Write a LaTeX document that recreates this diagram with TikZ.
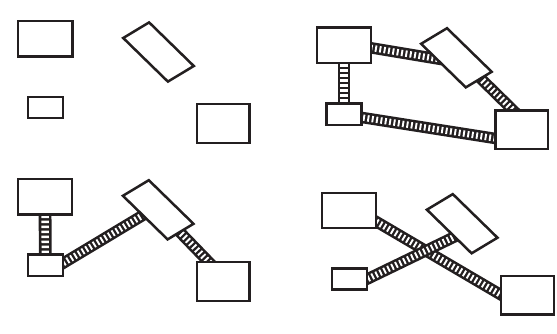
\documentclass[tikz,border=0pt]{standalone}
\usetikzlibrary{calc,backgrounds}
\definecolor{ink}{HTML}{231F20}
\tikzset{
  block/.style={draw=ink, line width=2.5pt, fill=white, inner sep=0pt},
  bigbox/.style={block, minimum width=54.2pt, minimum height=35.3pt},
  smallbox/.style={block, minimum width=34.9pt, minimum height=21.3pt},
  basebox/.style={block, minimum width=52.8pt, minimum height=38.7pt},
  ladder/.style={draw=white, line width=6.4pt, dash pattern=on 1.9pt off 2.5pt,
    preaction={draw=ink, line width=11.5pt, solid}},
  upladder/.style={draw=white, line width=7.4pt, dash pattern=on 2.5pt off 2.5pt,
    preaction={draw=ink, line width=12.8pt, solid}}
}
% tilted plate: name, centre
\newcommand{\tiltbox}[2]{%
  \coordinate (#1) at (#2);
  \draw[block, shift={(#2)}] (-35.3,-14) -- (-9.4,-29.6) -- (35.3,14) -- (9.4,29.6) -- cycle;}

\begin{document}
\begin{tikzpicture}[x=1pt, y=-1pt]
\useasboundingbox (0,0) rectangle (557,333);
% loose parts
\node[bigbox] (a1) at (45.2,38.8) {};
\node[smallbox] (c1) at (45.3,107.5) {};
\node[basebox] (d1) at (223.3,123.5) {};
\tiltbox{b1}{158.5,52}
% closed loop
\node[bigbox] (a2) at (344,45.3) {};
\node[smallbox] (c2) at (344,114.2) {};
\node[basebox] (d2) at (521.8,129.7) {};
\tiltbox{b2}{456.4,57.8}
% open chain
\node[bigbox] (a3) at (45,196.8) {};
\node[smallbox] (c3) at (45.3,265.2) {};
\node[basebox] (d3) at (223.3,281.5) {};
\tiltbox{b3}{158.2,209.8}
% crossed links
\node[bigbox] (a4) at (349,210.5) {};
\node[smallbox] (c4) at (349.5,279) {};
\node[basebox] (d4) at (527.5,295.2) {};
\tiltbox{b4}{462.2,223.7}
\begin{scope}[on background layer]
\draw[upladder] (a2) -- (c2);
\draw[ladder] ($(a2)+(18,1)$) -- ($(b2)+(-4.4,3.5)$);
\draw[ladder] ($(c2)+(6,1.4)$) -- ($(d2)+(-16.8,10.3)$);
\draw[ladder] ($(b2)+(13.6,10.2)$) -- ($(d2)+(0.2,-10.7)$);
\draw[upladder] (a3) -- (c3);
\draw[ladder] ($(c3)+(6.7,4.7)$) -- ($(b3)+(-8.2,1.2)$);
\draw[ladder] ($(b3)+(13.8,14.2)$) -- ($(d3)+(-5.3,-10)$);
\draw[ladder] ($(a4)+(16,4.5)$) -- ($(d4)+(-15.5,6.1)$);
\draw[ladder] ($(c4)+(6.5,5.5)$) -- ($(b4)+(-0.2,9.5)$);
\end{scope}
\end{tikzpicture}
\end{document}
